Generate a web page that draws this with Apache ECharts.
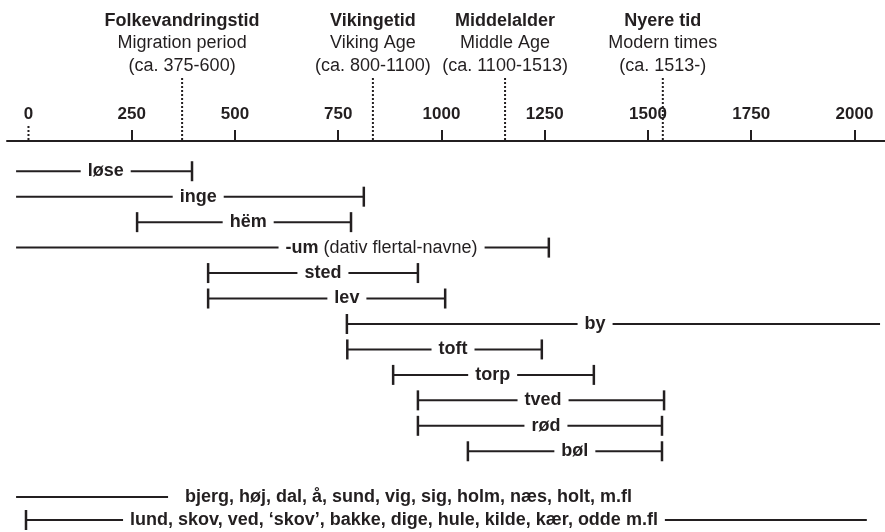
<!DOCTYPE html>
<html>
<head>
<meta charset="utf-8">
<script src="https://cdn.jsdelivr.net/npm/echarts@6/dist/echarts.min.js"></script>
<style>
  html, body { margin: 0; padding: 0; background: #fff; }
  #chart { width: 885px; height: 532px; }
</style>
</head>
<body>
<div id="chart"></div>
<script>
// tidslinje for stednavne-endelser
var tickValues = [0, 250, 500, 750, 1000, 1250, 1500, 1750, 2000];

var periodNames = ['Folkevandringstid', 'Vikingetid', 'Middelalder', 'Nyere tid'];
var periodEnglish = ['Migration period', 'Viking Age', 'Middle Age', 'Modern times'];
var periodDates = ['(ca. 375-600)', '(ca. 800-1100)', '(ca. 1100-1513)', '(ca. 1513-)'];
var periodMarks = [372, 834, 1154, 1536];

var suffixes = ['løse', 'inge', 'hëm', '-um', 'sted', 'lev', 'by', 'toft', 'torp', 'tved', 'rød', 'bøl'];
var suffixLabels = ['løse', 'inge', 'hëm', '{b|-um} (dativ flertal-navne)', 'sted', 'lev', 'by', 'toft', 'torp', 'tved', 'rød', 'bøl'];
var suffixStart = [-30, -30, 263, -30, 435, 435, 771, 772, 883, 943, 943, 1064];
var suffixEnd = [396, 812, 781, 1260, 943, 1009, 2062, 1243, 1369, 1539, 1534, 1534];
var suffixLabelAt = [187, 411, 532, 855, 713, 771, 1372, 1028, 1124, 1246, 1253, 1323];
var suffixStartCap = [false, false, true, false, true, true, true, true, true, true, true, true];
var suffixEndCap = [true, true, true, true, true, true, false, true, true, true, true, true];

var natureNames = ['bjerg', 'lund'];
var natureLabels = ['bjerg, høj, dal, å, sund, vig, sig, holm, næs, holt, m.fl',
                    'lund, skov, ved, ‘skov’, bakke, dige, hule, kilde, kær, odde m.fl'];
var natureStart = [-30, -6];
var natureEnd = [338, 2030];
var natureLabelAt = [920, 885];
var natureStartCap = [false, true];
var natureEndCap = [false, false];

var ink = '#231f20';
var fontFam = '"Liberation Sans", Arial, sans-serif';
var xMin = -52, xMax = 2074;

function rowData(starts, ends, labelAt) {
    return starts.map(function (s, i) {
        return [s, ends[i], labelAt[i], i];
    });
}

function barRenderer(labels, startCaps, endCaps) {
    return function (params, api) {
        var i = params.dataIndex;
        var s = api.coord([api.value(0), api.value(3)]);
        var e = api.coord([api.value(1), api.value(3)]);
        var l = api.coord([api.value(2), api.value(3)]);
        var y = s[1];
        var kids = [{
            type: 'line',
            shape: {x1: s[0], y1: y, x2: e[0], y2: y},
            style: {stroke: ink, lineWidth: 2}
        }];
        if (startCaps[i]) {
            kids.push({type: 'line', shape: {x1: s[0], y1: y - 10, x2: s[0], y2: y + 10},
                style: {stroke: ink, lineWidth: 2.5}});
        }
        if (endCaps[i]) {
            kids.push({type: 'line', shape: {x1: e[0], y1: y - 10, x2: e[0], y2: y + 10},
                style: {stroke: ink, lineWidth: 2.5}});
        }
        var isRich = labels[i].indexOf('{b|') === 0;
        kids.push({
            type: 'text',
            x: l[0], y: y,
            style: {
                text: labels[i],
                fill: ink,
                fontFamily: fontFam,
                fontSize: 18,
                fontWeight: isRich ? 'normal' : 'bold',
                align: 'center',
                verticalAlign: 'middle',
                backgroundColor: '#fff',
                padding: [0, 7],
                rich: {b: {fontFamily: fontFam, fontSize: 18, fontWeight: 'bold', fill: ink}}
            }
        });
        return {type: 'group', children: kids};
    };
}

var chart = echarts.init(document.getElementById('chart'), null, {renderer: 'canvas'});

var option = {
    animation: false,
    backgroundColor: '#fff',
    grid: [
        {left: 7, right: 0, top: 0, height: 141},
        {left: 7, right: 0, top: 158.5, height: 305.5},
        {left: 7, right: 0, top: 485.5, height: 46}
    ],
    xAxis: [
        {
            gridIndex: 0, type: 'value', min: xMin, max: xMax, position: 'bottom',
            axisLine: {show: true, lineStyle: {color: ink, width: 2}},
            axisTick: {show: true, inside: true, length: 11, customValues: tickValues.slice(1),
                lineStyle: {color: ink, width: 2}},
            axisLabel: {show: true, inside: true, margin: 18, customValues: tickValues,
                color: ink, fontFamily: fontFam, fontSize: 17, fontWeight: 'bold',
                formatter: function (v) { return String(v); }},
            splitLine: {show: false}
        },
        {gridIndex: 1, type: 'value', min: xMin, max: xMax, show: false},
        {gridIndex: 2, type: 'value', min: xMin, max: xMax, show: false}
    ],
    yAxis: [
        {gridIndex: 0, type: 'value', min: 0, max: 1, show: false},
        {gridIndex: 1, type: 'category', data: suffixes, inverse: true, show: false},
        {gridIndex: 2, type: 'category', data: natureNames, inverse: true, show: false}
    ],
    series: [
        {
            // perioder
            type: 'custom', xAxisIndex: 0, yAxisIndex: 0,
            data: periodMarks.map(function (m, i) { return [m, i]; }),
            encode: {x: 0, y: 1},
            renderItem: function (params, api) {
                var i = params.dataIndex;
                var x = api.coord([api.value(0), 0])[0];
                var base = {fill: ink, fontFamily: fontFam, fontSize: 18, align: 'center', verticalAlign: 'middle'};
                return {type: 'group', children: [
                    {type: 'text', x: x, y: 21, style: Object.assign({}, base, {text: periodNames[i], fontWeight: 'bold'})},
                    {type: 'text', x: x, y: 43, style: Object.assign({}, base, {text: periodEnglish[i]})},
                    {type: 'text', x: x, y: 66, style: Object.assign({}, base, {text: periodDates[i]})},
                    {type: 'line', shape: {x1: x, y1: 78, x2: x, y2: 140},
                        style: {stroke: ink, lineWidth: 2, lineDash: [2, 2]}}
                ]};
            }
        },
        {
            // dotted tick at year 0
            type: 'custom', xAxisIndex: 0, yAxisIndex: 0,
            data: [[0, 0]],
            encode: {x: 0, y: 1},
            renderItem: function (params, api) {
                var x = api.coord([0, 0])[0];
                return {type: 'line', shape: {x1: x, y1: 126, x2: x, y2: 140},
                    style: {stroke: ink, lineWidth: 2, lineDash: [2, 2]}};
            }
        },
        {
            type: 'custom', xAxisIndex: 1, yAxisIndex: 1,
            data: rowData(suffixStart, suffixEnd, suffixLabelAt),
            encode: {x: [0, 1, 2], y: 3},
            renderItem: barRenderer(suffixLabels, suffixStartCap, suffixEndCap)
        },
        {
            type: 'custom', xAxisIndex: 2, yAxisIndex: 2,
            data: rowData(natureStart, natureEnd, natureLabelAt),
            encode: {x: [0, 1, 2], y: 3},
            renderItem: barRenderer(natureLabels, natureStartCap, natureEndCap)
        }
    ]
};

chart.setOption(option);
</script>
</body>
</html>
